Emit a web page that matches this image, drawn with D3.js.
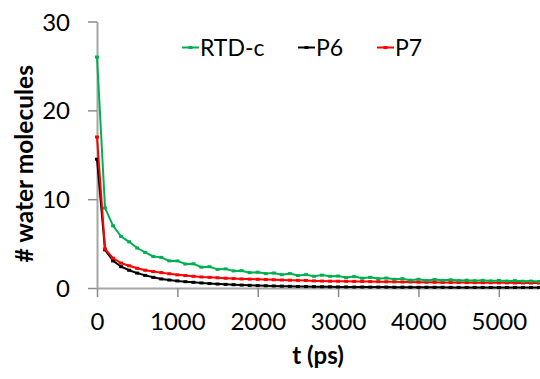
<!DOCTYPE html>
<html>
<head>
<meta charset="utf-8">
<script src="https://cdn.jsdelivr.net/npm/d3@7/dist/d3.min.js"></script>
<style>
    body { margin: 0; background: #fff; }
    text { font-family: Lato, "Open Sans", sans-serif; fill: #000; }
</style>
</head>
<body>
<svg id="chart"></svg>
<script>
// time points (ps), one every 100 ps
var times = d3.range(0, 5501, 100);

var rtdValues = [26.0, 9.0, 7.0, 5.8, 5.2, 4.5, 4.0, 3.55, 3.45, 3.05,
    3.05, 2.7, 2.72, 2.35, 2.4, 2.1, 2.15, 1.92, 1.95, 1.73,
    1.78, 1.62, 1.69, 1.5, 1.62, 1.4, 1.5, 1.32, 1.45, 1.32,
    1.35, 1.17, 1.28, 1.1, 1.2, 1.05, 1.12, 0.98, 1.05, 0.88,
    0.98, 0.85, 0.95, 0.86, 0.92, 0.84, 0.88, 0.82, 0.86, 0.8,
    0.84, 0.78, 0.82, 0.76, 0.78, 0.74];

var p6Values = [14.5, 4.3, 3.05, 2.4, 2.0, 1.68, 1.42, 1.2, 1.02, 0.9,
    0.8, 0.71, 0.64, 0.57, 0.5, 0.45, 0.41, 0.37, 0.33, 0.3,
    0.27, 0.25, 0.23, 0.21, 0.19, 0.17, 0.16, 0.15, 0.14, 0.13,
    0.12, 0.12, 0.11, 0.11, 0.1, 0.1, 0.1, 0.09, 0.09, 0.09,
    0.08, 0.08, 0.08, 0.08, 0.07, 0.07, 0.07, 0.07, 0.07, 0.06,
    0.06, 0.06, 0.06, 0.06, 0.06, 0.06];

var p7Values = [17.0, 4.4, 3.35, 2.8, 2.5, 2.22, 2.0, 1.85, 1.73, 1.6,
    1.48, 1.4, 1.32, 1.24, 1.2, 1.15, 1.1, 1.06, 1.02, 1.0,
    0.98, 0.95, 0.93, 0.9, 0.88, 0.86, 0.84, 0.8, 0.78, 0.77,
    0.76, 0.75, 0.74, 0.73, 0.72, 0.71, 0.7, 0.69, 0.68, 0.67,
    0.66, 0.65, 0.64, 0.63, 0.62, 0.62, 0.61, 0.6, 0.6, 0.59,
    0.58, 0.58, 0.57, 0.57, 0.56, 0.56];

var xTicks = [0, 1000, 2000, 3000, 4000, 5000];
var yTicks = [0, 10, 20, 30];

var series = [
    { name: "RTD-c", color: "#00b050", values: rtdValues, legendX: 182 },
    { name: "P6", color: "#000000", values: p6Values, legendX: 298 },
    { name: "P7", color: "#ff0000", values: p7Values, legendX: 377 }
];

var svgW = 540, svgH = 379;
var svg = d3.select("#chart").attr("width", svgW).attr("height", svgH);

var xScale = d3.scaleLinear().domain([0, 5500]).range([97, 539]);
var yScale = d3.scaleLinear().domain([0, 30]).range([288, 21.5]);

// axes
var xAxis = d3.axisBottom(xScale).tickValues(xTicks).tickFormat(d3.format("d"))
    .tickSizeInner(9).tickSizeOuter(0).tickPadding(18);
var yAxis = d3.axisLeft(yScale).tickValues(yTicks).tickFormat(d3.format("d"))
    .tickSizeInner(9).tickSizeOuter(0).tickPadding(18);

var xAxisG = svg.append("g").attr("transform", `translate(0,${yScale(0)})`).call(xAxis);
var yAxisG = svg.append("g").attr("transform", `translate(${xScale(0)},0)`).call(yAxis);

[xAxisG, yAxisG].forEach(function (g) {
    g.select(".domain").attr("stroke", "#a6a6a6").attr("stroke-width", 2);
    g.selectAll(".tick line").attr("stroke", "#8c8c8c").attr("stroke-width", 1.5);
    g.selectAll(".tick text").attr("font-size", 24).attr("fill", "#000")
        .style("font-family", "Lato, 'Open Sans', sans-serif");
});
xAxisG.selectAll(".tick text").attr("dy", "0.64em");
yAxisG.selectAll(".tick text").attr("dy", "0.36em");

// series lines
var line = d3.line()
    .x(function (d, i) { return xScale(times[i]); })
    .y(function (d) { return yScale(d); });

var seriesOrder = [series[1], series[2], series[0]];
seriesOrder.forEach(function (s) {
    svg.append("path")
        .datum(s.values)
        .attr("fill", "none")
        .attr("stroke", s.color)
        .attr("stroke-width", 2)
        .attr("d", line);
    svg.append("g").selectAll("rect")
        .data(s.values)
        .enter()
        .append("rect")
        .attr("x", function (d, i) { return xScale(times[i]) - 2; })
        .attr("y", function (d) { return yScale(d) - 1.5; })
        .attr("width", 4)
        .attr("height", 3)
        .attr("fill", s.color);
});

// legend
var legendY = 47.5;
series.forEach(function (s) {
    var g = svg.append("g");
    g.append("line")
        .attr("x1", s.legendX).attr("x2", s.legendX + 17)
        .attr("y1", legendY).attr("y2", legendY)
        .attr("stroke", s.color).attr("stroke-width", 2);
    g.append("rect")
        .attr("x", s.legendX + 6.5).attr("y", legendY - 1.5)
        .attr("width", 4).attr("height", 3)
        .attr("fill", s.color);
    g.append("text")
        .attr("x", s.legendX + 18)
        .attr("y", legendY)
        .attr("dy", "0.36em")
        .attr("font-size", 23)
        .text(s.name);
});

// axis titles
svg.append("text")
    .attr("x", (xScale(0) + xScale(5500)) / 2)
    .attr("y", 364)
    .attr("text-anchor", "middle")
    .attr("font-size", 24)
    .attr("font-weight", "bold")
    .text("t (ps)");

svg.append("text")
    .attr("transform", `translate(33,${(yScale(0) + yScale(30)) / 2 + 9}) rotate(-90)`)
    .attr("text-anchor", "middle")
    .attr("font-size", 24.5)
    .attr("font-weight", "bold")
    .text("# water molecules");
</script>
</body>
</html>
